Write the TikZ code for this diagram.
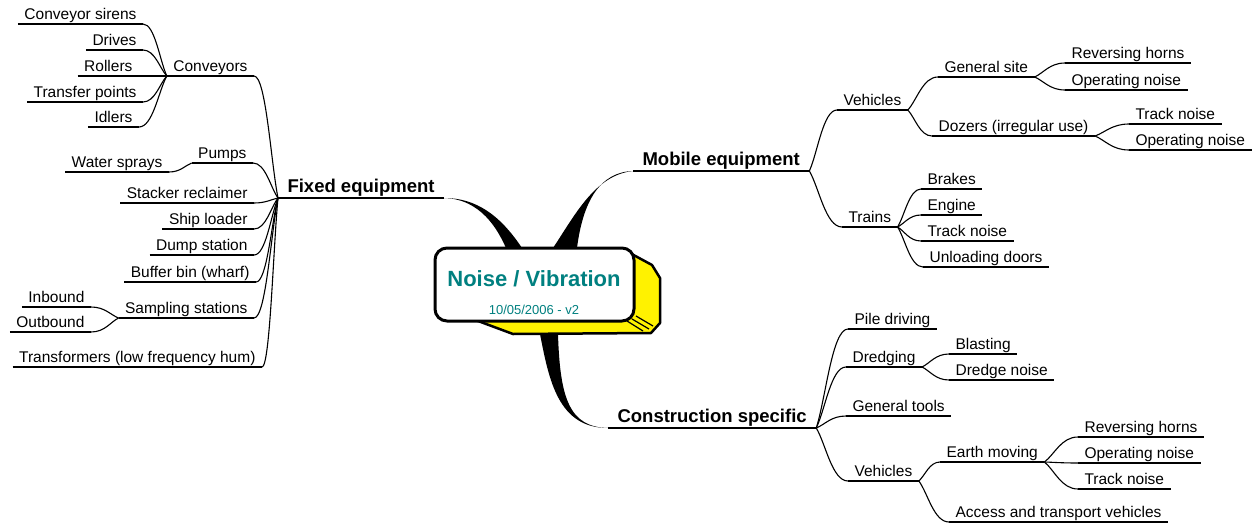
\documentclass[tikz,border=0pt]{standalone}
\usepackage{fontspec}
\setmainfont{Liberation Sans}
\usetikzlibrary{calc}

\definecolor{titleteal}{RGB}{0,128,128}

\tikzset{
  topic/.style={font=\fontsize{15.5}{18}\selectfont, inner xsep=6pt, inner ysep=1.2pt,
    text height=11.5pt, text depth=3pt,
    append after command={(\tikzlastnode.south west) edge (\tikzlastnode.south east)}},
  main/.style={topic, font=\bfseries\fontsize{18.5}{22}\selectfont, inner xsep=9pt,
    inner ysep=1pt, text height=14pt, text depth=3.5pt},
  branch/.style={to path={let \p1=(\tikztostart), \p2=(\tikztotarget), \n1={0.5*(\x1-\x2)} in
    .. controls ($(\tikztostart)!0.3!(\tikztotarget)$) and +(\n1,0) .. (\tikztotarget)}},
  rootbox/.style={draw, line width=3pt, rounded corners=12pt, fill=white,
    minimum width=199pt, minimum height=73pt, inner sep=0pt},
  roottitle/.style={font=\bfseries\fontsize{22}{26}\selectfont, text=titleteal, inner sep=0pt},
  rootdate/.style={font=\fontsize{13}{15}\selectfont, text=titleteal, inner sep=0pt}
}

\begin{document}
\begin{tikzpicture}[x=1pt, y=-1pt, line width=1.1pt]
	\useasboundingbox (0,0) rectangle (1253,525);

	% central topic
	\filldraw[fill=yellow, line width=2.5pt, line join=round] (470,318) -- (513,334) -- (651,333)
		-- (660,323) -- (660,278) -- (652,265) -- (628,252) -- cycle;
	\node[rootbox] (root) at (534.5,284.5) {};
	\draw[line width=1.2pt] (636,316) -- (653,326) (632,319) -- (649,329) (627,321) -- (643,331);
	\node[roottitle] (title) at (534,279) {Noise / Vibration};
	\node[rootdate] (date) at (534,310) {10/05/2006 - v2};

	\coordinate (fa) at (506,248);
	\coordinate (fb) at (522,248);
	\coordinate (ma) at (553,248);
	\coordinate (mb) at (577,248);
	\coordinate (ca) at (540,334);
	\coordinate (cb) at (558,334);

	% fixed equipment
	\node[main, anchor=south west] (fixed) at (278,198) {Fixed equipment};
	\node[topic, anchor=south east] (conv) at (254,76) {Conveyors};
	\node[topic, anchor=south east] (siren) at (143,24) {Conveyor sirens};
	\node[topic, anchor=south east] (drive) at (143,50) {Drives};
	\node[topic, anchor=south east] (roller) at (139,76) {Rollers};
	\node[topic, anchor=south east] (transfer) at (143,102) {Transfer points};
	\node[topic, anchor=south east] (idler) at (139,127) {Idlers};
	\node[topic, anchor=south east] (pump) at (253,163) {Pumps};
	\node[topic, anchor=south east] (spray) at (169,172) {Water sprays};
	\node[topic, anchor=south east] (stacker) at (254,203) {Stacker reclaimer};
	\node[topic, anchor=south east] (shipl) at (254,229) {Ship loader};
	\node[topic, anchor=south east] (dumpst) at (254,255) {Dump station};
	\node[topic, anchor=south east] (bufbin) at (256,282) {Buffer bin (wharf)};
	\node[topic, anchor=south east] (sampl) at (254,318) {Sampling stations};
	\node[topic, anchor=south east] (inb) at (91,307) {Inbound};
	\node[topic, anchor=south east] (outb) at (91,332) {Outbound};
	\node[topic, anchor=south east] (transf) at (262,367) {Transformers (low frequency hum)};

	% mobile equipment
	\node[main, anchor=south west] (mobile) at (633,171) {Mobile equipment};
	\node[topic, anchor=south west] (mveh) at (837,110) {Vehicles};
	\node[topic, anchor=south west] (gsite) at (938,77) {General site};
	\node[topic, anchor=south west] (horn1) at (1065,63) {Reversing horns};
	\node[topic, anchor=south west] (oper1) at (1065,90) {Operating noise};
	\node[topic, anchor=south west] (dozer) at (932,136) {Dozers (irregular use)};
	\node[topic, anchor=south west] (track1) at (1129,124) {Track noise};
	\node[topic, anchor=south west] (oper2) at (1129,150) {Operating noise};
	\node[topic, anchor=south west] (train) at (842,227) {Trains};
	\node[topic, anchor=south west] (brake) at (921,189) {Brakes};
	\node[topic, anchor=south west] (engine) at (921,215) {Engine};
	\node[topic, anchor=south west] (track2) at (921,241) {Track noise};
	\node[topic, anchor=south west] (doors) at (923,267) {Unloading doors};

	% construction specific
	\node[main, anchor=south west] (constr) at (608,428) {Construction specific};
	\node[topic, anchor=south west] (pile) at (848,329) {Pile driving};
	\node[topic, anchor=south west] (dredge) at (846,367) {Dredging};
	\node[topic, anchor=south west] (blast) at (949,354) {Blasting};
	\node[topic, anchor=south west] (dnoise) at (949,380) {Dredge noise};
	\node[topic, anchor=south west] (tools) at (846,416) {General tools};
	\node[topic, anchor=south west] (cveh) at (848,481) {Vehicles};
	\node[topic, anchor=south west] (earth) at (940,462) {Earth moving};
	\node[topic, anchor=south west] (horn2) at (1078,437) {Reversing horns};
	\node[topic, anchor=south west] (oper3) at (1078,463) {Operating noise};
	\node[topic, anchor=south west] (track3) at (1078,489) {Track noise};
	\node[topic, anchor=south west] (access) at (949,522) {Access and transport vehicles};

	% main branches
	\fill (fixed.south east) .. controls +(32,0) and +(-22,-33) .. (fb) -- (fa)
		.. controls +(-8,-18) and +(37,1) .. (fixed.south east) -- cycle;
	\fill (mobile.south west) .. controls +(-33,1) and +(6,-47) .. (mb) -- (ma)
		.. controls +(22,-33) and +(-38,4) .. (mobile.south west) -- cycle;
	\fill (ca) .. controls +(9,46) and +(-50,0) .. (constr.south west)
		.. controls +(-38,-1) and +(2,66) .. (cb) -- cycle;

	% sub branches
	\draw (fixed.south west) to[branch] (conv.south east);
	\draw (fixed.south west) to[branch] (pump.south east);
	\draw (fixed.south west) to[branch] (stacker.south east);
	\draw (fixed.south west) to[branch] (shipl.south east);
	\draw (fixed.south west) to[branch] (dumpst.south east);
	\draw (fixed.south west) to[branch] (bufbin.south east);
	\draw (fixed.south west) to[branch] (sampl.south east);
	\draw (fixed.south west) to[branch] (transf.south east);
	\draw (conv.south west) to[branch] (siren.south east);
	\draw (conv.south west) to[branch] (drive.south east);
	\draw (conv.south west) to[branch] (roller.south east);
	\draw (conv.south west) to[branch] (transfer.south east);
	\draw (conv.south west) to[branch] (idler.south east);
	\draw (pump.south west) to[branch] (spray.south east);
	\draw (sampl.south west) to[branch] (inb.south east);
	\draw (sampl.south west) to[branch] (outb.south east);

	\draw (mobile.south east) to[branch] (mveh.south west);
	\draw (mobile.south east) to[branch] (train.south west);
	\draw (mveh.south east) to[branch] (gsite.south west);
	\draw (mveh.south east) to[branch] (dozer.south west);
	\draw (gsite.south east) to[branch] (horn1.south west);
	\draw (gsite.south east) to[branch] (oper1.south west);
	\draw (dozer.south east) to[branch] (track1.south west);
	\draw (dozer.south east) to[branch] (oper2.south west);
	\draw (train.south east) to[branch] (brake.south west);
	\draw (train.south east) to[branch] (engine.south west);
	\draw (train.south east) to[branch] (track2.south west);
	\draw (train.south east) to[branch] (doors.south west);

	\draw (constr.south east) to[branch] (pile.south west);
	\draw (constr.south east) to[branch] (dredge.south west);
	\draw (constr.south east) to[branch] (tools.south west);
	\draw (constr.south east) to[branch] (cveh.south west);
	\draw (dredge.south east) to[branch] (blast.south west);
	\draw (dredge.south east) to[branch] (dnoise.south west);
	\draw (cveh.south east) to[branch] (earth.south west);
	\draw (cveh.south east) to[branch] (access.south west);
	\draw (earth.south east) to[branch] (horn2.south west);
	\draw (earth.south east) to[branch] (oper3.south west);
	\draw (earth.south east) to[branch] (track3.south west);
\end{tikzpicture}
\end{document}
